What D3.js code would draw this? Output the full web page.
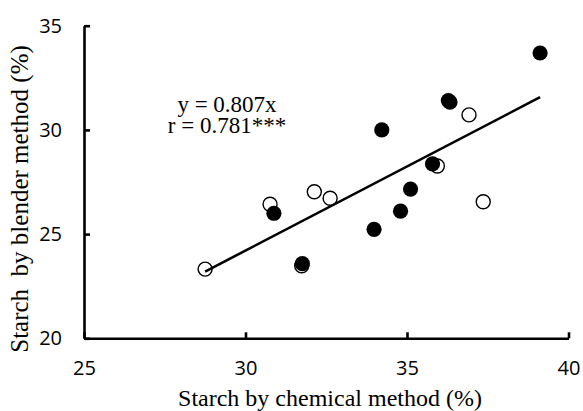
<!DOCTYPE html>
<html>
<head>
<meta charset="utf-8">
<script src="https://cdn.jsdelivr.net/npm/d3@7"></script>
<style>
  body { margin: 0; background: #fff; }
  svg { display: block; }
  .tick text { font-family: "Open Sans", sans-serif; font-size: 20px; fill: #000; }
  .title { font-family: "Liberation Serif", "Times New Roman", serif; fill: #000; white-space: pre; }
</style>
</head>
<body>
<svg></svg>
<script>
const width = 583;
const height = 411;

// open circles
var openX = [28.75, 30.76, 32.13, 32.62, 31.74, 35.94, 36.92, 37.36];
var openY = [23.32, 26.43, 27.03, 26.72, 23.48, 28.27, 30.72, 26.55];
// filled circles
var filledX = [30.88, 31.76, 33.98, 34.80, 35.11, 35.79, 34.22, 36.33, 36.28, 39.12];
var filledY = [26.00, 23.58, 25.23, 26.10, 27.16, 28.37, 30.00, 31.33, 31.41, 33.69];

var xTicks = [25, 30, 35, 40];
var yTicks = [20, 25, 30, 35];
var slope = 0.807;
var fitRange = [28.75, 39.12];

var margin = {top: 25.7, right: 14.5, bottom: 72.7, left: 84};

var xScale = d3.scaleLinear().domain([25, 40]).range([margin.left, width - margin.right]);
var yScale = d3.scaleLinear().domain([20, 35]).range([height - margin.bottom, margin.top]);

var svg = d3.select("svg");
svg.attr("width", width);
svg.attr("height", height);

var xAxis = svg.append("g")
    .attr("transform", `translate(0,${yScale(20)})`)
    .call(d3.axisBottom(xScale).tickValues(xTicks).tickSizeInner(-6).tickSizeOuter(0).tickPadding(23));

var yAxis = svg.append("g")
    .attr("transform", `translate(${xScale(25)},0)`)
    .call(d3.axisLeft(yScale).tickValues(yTicks).tickSizeInner(-6).tickSizeOuter(0).tickPadding(22));

svg.selectAll(".domain, .tick line")
    .attr("stroke", "#000")
    .attr("stroke-width", 2.6);

// open markers first, filled on top
svg.append("g")
    .selectAll("circle")
    .data(openX)
    .enter()
    .append("circle")
    .attr("cx", (d) => xScale(d))
    .attr("cy", (d, i) => yScale(openY[i]))
    .attr("r", 7)
    .attr("fill", "#fff")
    .attr("stroke", "#000")
    .attr("stroke-width", 1.4);

svg.append("g")
    .selectAll("circle")
    .data(filledX)
    .enter()
    .append("circle")
    .attr("cx", (d) => xScale(d))
    .attr("cy", (d, i) => yScale(filledY[i]))
    .attr("r", 7.6)
    .attr("fill", "#000");

var lineGenerator = d3.line()
    .x((d) => xScale(d))
    .y((d) => yScale(slope * d));

svg.append("path")
    .attr("d", lineGenerator(fitRange))
    .attr("fill", "none")
    .attr("stroke", "#000")
    .attr("stroke-width", 2.6);

svg.append("text")
    .attr("class", "title")
    .attr("x", 227).attr("y", 112)
    .attr("text-anchor", "middle")
    .style("font-size", "23px")
    .text("y = 0.807x");

svg.append("text")
    .attr("class", "title")
    .attr("x", 227).attr("y", 133)
    .attr("text-anchor", "middle")
    .style("font-size", "23px")
    .text("r = 0.781***");

svg.append("text")
    .attr("class", "title")
    .attr("x", 330).attr("y", 406)
    .attr("text-anchor", "middle")
    .style("font-size", "24px")
    .text("Starch by chemical method (%)");

svg.append("text")
    .attr("class", "title")
    .attr("transform", "translate(28,199) rotate(-90)")
    .attr("text-anchor", "middle")
    .style("font-size", "25px")
    .text("Starch  by blender method (%)");
</script>
</body>
</html>
